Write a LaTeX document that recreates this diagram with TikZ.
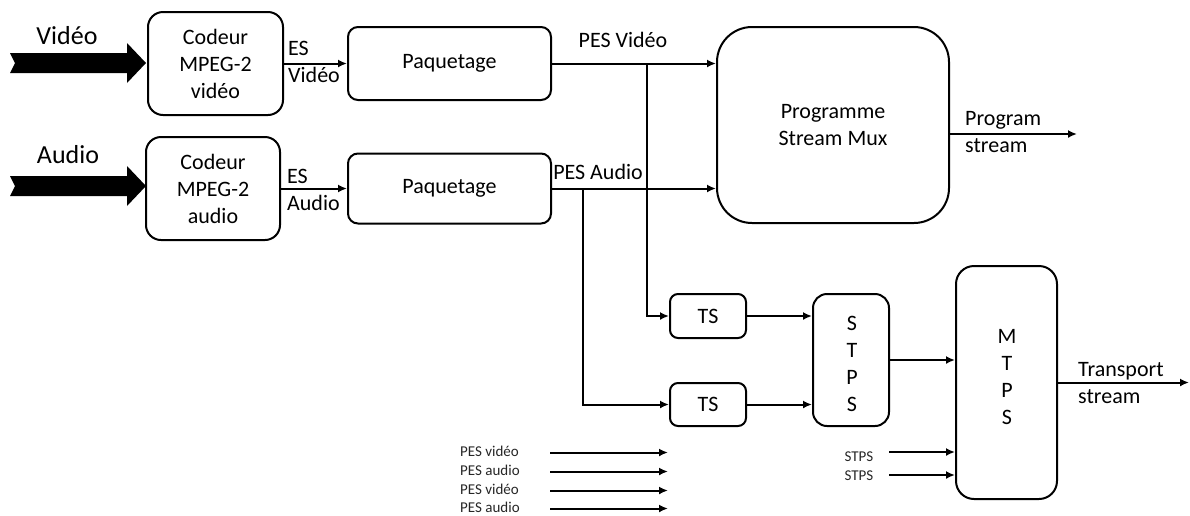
\documentclass[tikz,border=0pt]{standalone}
\usepackage{fontspec}
\setmainfont{Carlito}
\usetikzlibrary{arrows.meta}
\begin{document}
\begin{tikzpicture}[x=1pt,y=-1pt,
  every node/.style={font=\fontsize{22}{27}\selectfont},
  blk/.style={draw,line width=2pt,rounded corners=#1,align=center,inner sep=0pt},
  blk/.default=14pt,
  lbl/.style={inner sep=0pt,align=left},
  big/.style={inner sep=0pt,font=\fontsize{26}{30}\selectfont},
  small/.style={inner sep=0pt,font=\fontsize{15}{19}\selectfont,text=black!85},
  link/.style={line width=2pt,-{Latex[length=9pt,width=8pt]}}]
\useasboundingbox (0,0) rectangle (1190,515);

% encoders
\node[blk=15pt,minimum width=135pt,minimum height=103pt] (cv) at (215.5,63.5) {Codeur\\MPEG-2\\vidéo};
\node[blk=15pt,minimum width=134pt,minimum height=103pt] (ca) at (213,188.5) {Codeur\\MPEG-2\\audio};

% packetizers
\node[blk=10pt,minimum width=203pt,minimum height=73pt] (pv) at (449.5,63.5) {Paquetage};
\node[blk=10pt,minimum width=203pt,minimum height=70pt] (pa) at (449.5,188.5) {Paquetage};

% program stream multiplexer
\node[blk=35pt,minimum width=232pt,minimum height=196pt] (mux) at (833,125) {Programme\\Stream Mux};

% transport side
\node[blk=8pt,minimum width=76pt,minimum height=44pt] (ts1) at (708,316) {TS};
\node[blk=8pt,minimum width=76pt,minimum height=43pt] (ts2) at (708,404.5) {TS};
\node[blk=14pt,minimum width=76pt,minimum height=132pt] (stps) at (851,360) {};
\node[inner sep=0pt,align=center] (stpsT) at (852,364) {S\\T\\P\\S};
\node[blk=18pt,minimum width=101pt,minimum height=233pt] (mtps) at (1006.5,382.5) {};
\node[inner sep=0pt,align=center] (mtpsT) at (1007,377) {M\\T\\P\\S};

% wide input arrows
\fill (10,53) -- (127,53) -- (127,43) -- (146,63) -- (127,83) -- (127,73) -- (10,73) -- (15,63) -- cycle;
\fill (10,176) -- (127,176) -- (127,166) -- (146,186) -- (127,206) -- (127,196) -- (10,196) -- (15,186) -- cycle;
\node[big] (vin) at (67,36) {Vidéo};
\node[big] (ain) at (68,155) {Audio};

% elementary streams
\draw[link] (cv.east) -- (pv.west);
\draw[link] (ca.east) -- (pa.west);
\node[lbl,anchor=west] (esv) at (288,62) {ES\\Vidéo};
\node[lbl,anchor=west] (esa) at (287,189.5) {ES\\Audio};

% packetized streams to the program mux
\draw[link] (pv.east) -- (mux.west |- pv.east);
\draw[link] (pa.east) -- (mux.west |- pa.east);
\node[inner sep=0pt] (pesv) at (623,40) {PES Vidéo};
\node[inner sep=0pt] (pesa) at (598,172) {PES Audio};

% branches to the transport packetizers
\coordinate (jv) at (647,63.5);
\coordinate (ja) at (583,188.5);
\draw[link] (jv) |- (ts1.west);
\draw[link] (ja) |- (ts2.west);
\draw[link] (ts1.east) -- (stps.west |- ts1.east);
\draw[link] (ts2.east) -- (stps.west |- ts2.east);
\draw[link] (stps.east) -- (mtps.west |- stps.east);

% other single program streams
\coordinate (s1) at (889,452);
\coordinate (s2) at (889,475);
\draw[link] (s1) -- (mtps.west |- s1);
\draw[link] (s2) -- (mtps.west |- s2);
\node[small] (s1l) at (859,457) {STPS};
\node[small] (s2l) at (859,476) {STPS};

% outputs
\coordinate (po) at (1077,134);
\draw[link] (mux.east |- po) -- (po);
\node[lbl,anchor=west] (pol) at (965,132) {Program\\stream};
\coordinate (to) at (1189,382.5);
\draw[link] (mtps.east) -- (to);
\node[lbl,anchor=west] (tol) at (1078,383) {Transport\\stream};

% legend
\foreach \i/\t/\y in {1/PES vidéo/451,2/PES audio/470,3/PES vidéo/489,4/PES audio/507}{
  \node[small,anchor=west] (g\i) at (460,\y) {\t};
  \coordinate (ga\i) at (550,\y+1.5);
  \coordinate (gb\i) at (668,\y+1.5);
  \draw[link] (ga\i) -- (gb\i);
}
\end{tikzpicture}
\end{document}
